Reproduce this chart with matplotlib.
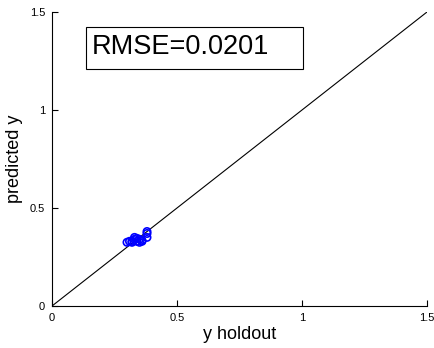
import matplotlib
matplotlib.use('Agg')
import matplotlib.pyplot as plt
from matplotlib.patches import Rectangle

plt.rcParams['font.family'] = ['Liberation Sans', 'DejaVu Sans']

# holdout vs predicted values
y_holdout = [0.30, 0.31, 0.32, 0.32, 0.33, 0.33, 0.34, 0.34, 0.35, 0.35, 0.36, 0.36, 0.38, 0.38, 0.38]
y_pred = [0.325, 0.33, 0.33, 0.325, 0.34, 0.35, 0.345, 0.33, 0.34, 0.325, 0.335, 0.33, 0.37, 0.38, 0.35]
rmse_label = 'RMSE=0.0201'
ticks = [0, 0.5, 1, 1.5]
tick_labels = ['0', '0.5', '1', '1.5']

fig = plt.figure(figsize=(4.35, 3.48), dpi=100)
ax = fig.add_axes([52 / 435, 42 / 348, 375 / 435, 294 / 348])

ax.plot([0, 1.5], [0, 1.5], color='black', linewidth=0.8)
ax.scatter(y_holdout, y_pred, s=28, facecolors='none', edgecolors='#0000ff', linewidths=1.2, zorder=3)

ax.set_xlim(0, 1.5)
ax.set_ylim(0, 1.5)
ax.set_xticks(ticks)
ax.set_xticklabels(tick_labels)
ax.set_yticks(ticks)
ax.set_yticklabels(tick_labels)
ax.tick_params(direction='in', labelsize=8, length=4, width=0.8, pad=5)
ax.spines['top'].set_visible(False)
ax.spines['right'].set_visible(False)
ax.set_xlabel('y holdout', fontsize=13, labelpad=2)
ax.set_ylabel('predicted y', fontsize=13, labelpad=5)

# annotation box (fixed size, like the original)
ax.add_patch(Rectangle((0.136, 1.209), 0.868, 0.214, facecolor='white', edgecolor='black',
                       linewidth=0.8, zorder=4))
ax.text(0.16, 1.32, rmse_label, fontsize=19.5, va='center', ha='left', zorder=5)

fig.savefig('out.png', dpi=100)
